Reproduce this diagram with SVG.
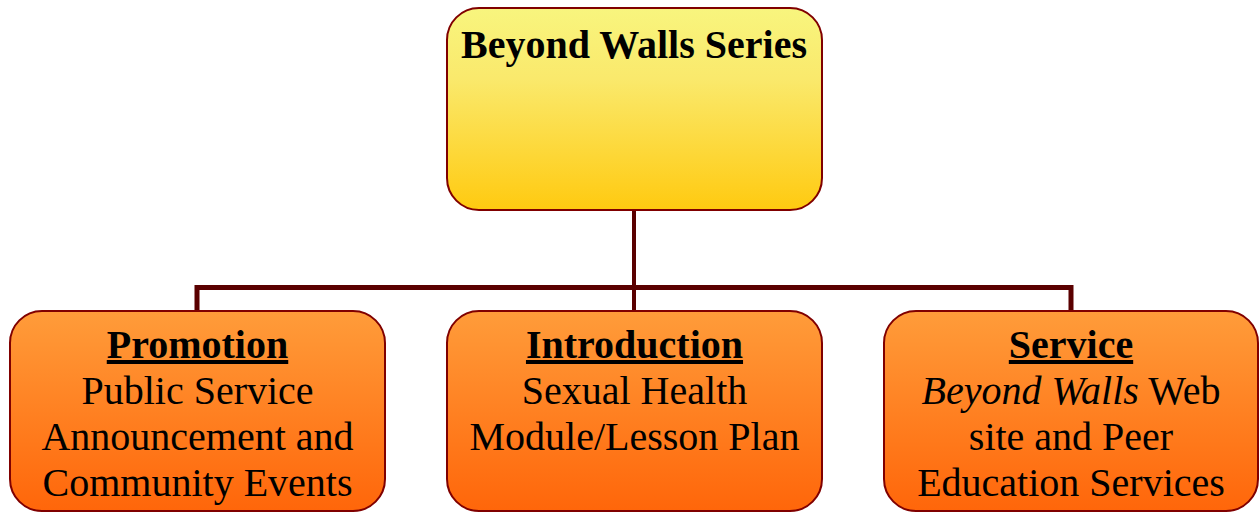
<svg xmlns="http://www.w3.org/2000/svg" width="1259" height="512" viewBox="0 0 1259 512">
<defs>
<linearGradient id="gTop" x1="0" y1="0" x2="0" y2="1">
<stop offset="0" stop-color="#f8f57e"/>
<stop offset="0.35" stop-color="#fae96c"/>
<stop offset="1" stop-color="#ffca10"/>
</linearGradient>
<linearGradient id="gBot" x1="0" y1="0" x2="0" y2="1">
<stop offset="0" stop-color="#ff9c3a"/>
<stop offset="1" stop-color="#ff660a"/>
</linearGradient>
<style>
.top{fill:url(#gTop);stroke:#800000;stroke-width:2}
.bot{fill:url(#gBot);stroke:#800000;stroke-width:2}
.conn{stroke:#5a0000;fill:none}
text{font-family:"Liberation Serif","Times New Roman",serif;font-size:40px;fill:#000;text-anchor:middle}
.h{font-weight:bold}
.u{text-decoration:underline}
</style>
</defs>
<g id="connectors">
<line class="conn" x1="634" y1="210" x2="634" y2="312" stroke-width="4"/>
<polyline class="conn" points="197,312 197,287.5 1071,287.5 1071,312" stroke-width="5"/>
</g>
<g id="node-top">
<rect class="top" x="447" y="8" width="375" height="202" rx="32" ry="32"/>
<text class="h" x="634" y="58">Beyond Walls Series</text>
</g>
<g id="node-promotion">
<rect class="bot" x="10" y="311" width="375" height="200" rx="32" ry="32"/>
<text class="h u" x="197.5" y="358">Promotion</text>
<text x="197.5" y="404">Public Service</text>
<text x="197.5" y="450">Announcement and</text>
<text x="197.5" y="496">Community Events</text>
</g>
<g id="node-introduction">
<rect class="bot" x="447" y="311" width="375" height="200" rx="32" ry="32"/>
<text class="h u" x="634.5" y="358">Introduction</text>
<text x="634.5" y="404">Sexual Health</text>
<text x="634.5" y="450">Module/Lesson Plan</text>
</g>
<g id="node-service">
<rect class="bot" x="884" y="311" width="374" height="200" rx="32" ry="32"/>
<text class="h u" x="1071" y="358">Service</text>
<text x="1071" y="404"><tspan font-style="italic">Beyond Walls</tspan> Web</text>
<text x="1071" y="450">site and Peer</text>
<text x="1071" y="496">Education Services</text>
</g>
</svg>
